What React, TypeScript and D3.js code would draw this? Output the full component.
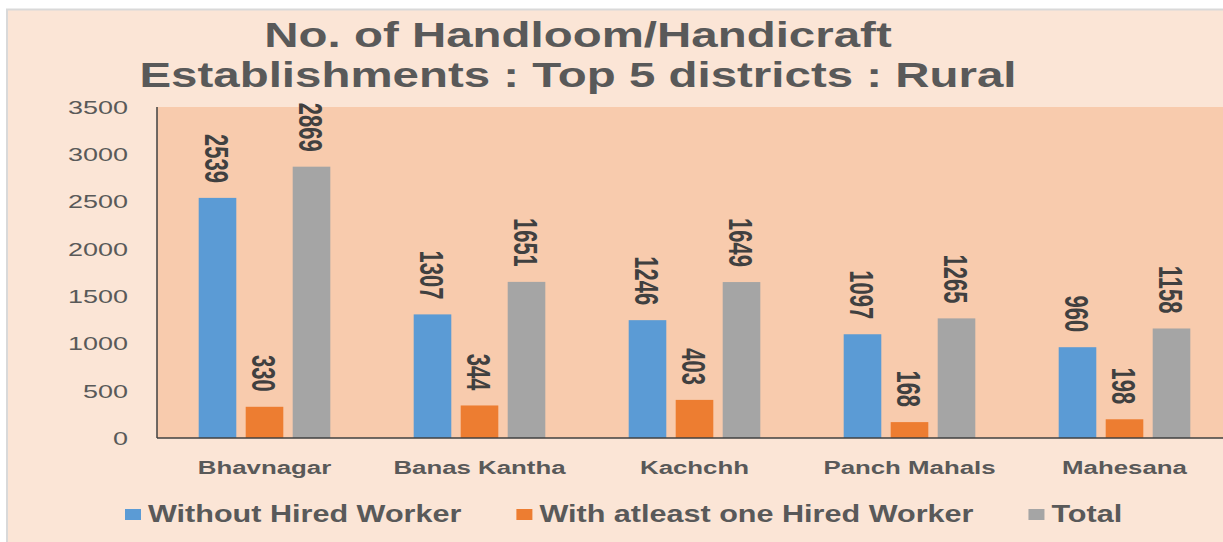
import React, { useEffect, useRef } from "react";
import * as d3 from "d3";

const districts = ["Bhavnagar", "Banas Kantha", "Kachchh", "Panch Mahals", "Mahesana"];
const seriesNames = ["Without Hired Worker", "With atleast one Hired Worker", "Total"];
const withoutHired = [2539, 1307, 1246, 1097, 960];
const withHired = [330, 344, 403, 168, 198];
const totals = [2869, 1651, 1649, 1265, 1158];
const yTicks = [0, 500, 1000, 1500, 2000, 2500, 3000, 3500];
const titleLines = ["No. of Handloom/Handicraft", "Establishments : Top 5 districts : Rural"];

const seriesColors = ["#5B9BD5", "#ED7D31", "#A5A5A5"];
const W = 1223;
const H = 542;
const FONT = "'Liberation Sans', Arial, sans-serif";
const TEXT = "#595959";

export default function App() {
  const ref = useRef<SVGSVGElement | null>(null);

  useEffect(() => {
    const svg = d3.select(ref.current);
    svg.selectAll("*").remove();

    const plot = { left: 157, top: 107, bottom: 438, bandW: 215 };
    const values = [withoutHired, withHired, totals];

    // chart area
    svg.append("rect").attr("width", W).attr("height", H).attr("fill", "#ffffff");
    svg
      .append("rect")
      .attr("x", 7)
      .attr("y", 9.5)
      .attr("width", W + 20)
      .attr("height", H + 20)
      .attr("fill", "#FBE5D6")
      .attr("stroke", "#D9D9D9")
      .attr("stroke-width", 2);

    const x0 = d3
      .scaleBand<string>()
      .domain(districts)
      .range([plot.left, plot.left + plot.bandW * districts.length])
      .paddingInner(0)
      .paddingOuter(0);
    const x1 = d3
      .scaleBand<string>()
      .domain(seriesNames)
      .range([0, x0.bandwidth()])
      .paddingInner(0.2)
      .paddingOuter(0.887);
    const y = d3.scaleLinear().domain([0, 3500]).range([plot.bottom, plot.top]);

    // plot area
    svg
      .append("rect")
      .attr("x", plot.left)
      .attr("y", plot.top)
      .attr("width", W - plot.left + 20)
      .attr("height", plot.bottom - plot.top)
      .attr("fill", "#F8CBAD");

    // title
    titleLines.forEach((line, i) => {
      svg
        .append("text")
        .attr("transform", `translate(578,${47 + i * 40}) scale(1.356,1)`)
        .attr("text-anchor", "middle")
        .attr("font-family", FONT)
        .attr("font-weight", "bold")
        .attr("font-size", 35)
        .attr("fill", TEXT)
        .text(line);
    });

    // y tick labels
    yTicks.forEach((t) => {
      svg
        .append("text")
        .attr("transform", `translate(128,${y(t)}) scale(1.42,1)`)
        .attr("text-anchor", "end")
        .attr("dy", "0.36em")
        .attr("font-family", FONT)
        .attr("font-size", 19)
        .attr("fill", TEXT)
        .text(String(t));
    });

    // bars
    const groups = svg
      .selectAll("g.district")
      .data(districts)
      .enter()
      .append("g")
      .attr("class", "district")
      .attr("transform", (d) => `translate(${x0(d)},0)`);

    seriesNames.forEach((s, si) => {
      groups
        .append("rect")
        .attr("x", x1(s)!)
        .attr("y", (_d, i) => y(values[si][i]))
        .attr("width", x1.bandwidth())
        .attr("height", (_d, i) => plot.bottom - y(values[si][i]))
        .attr("fill", seriesColors[si]);

      const fs = 22;
      groups
        .append("text")
        .attr(
          "transform",
          (_d, i) =>
            `translate(${x1(s)! + x1.bandwidth() / 2},${y(values[si][i]) - 15}) rotate(90) scale(1,1.55)`
        )
        .attr("text-anchor", "end")
        .attr("y", fs * 0.358)
        .attr("font-family", FONT)
        .attr("font-weight", "bold")
        .attr("font-size", fs)
        .attr("fill", "#404040")
        .text((_d, i) => String(values[si][i]));
    });

    // axes lines
    svg
      .append("line")
      .attr("x1", plot.left)
      .attr("x2", plot.left)
      .attr("y1", plot.top)
      .attr("y2", plot.bottom)
      .attr("stroke", "#404040")
      .attr("stroke-width", 1.5);
    svg
      .append("line")
      .attr("x1", plot.left)
      .attr("x2", W)
      .attr("y1", plot.bottom)
      .attr("y2", plot.bottom)
      .attr("stroke", "#404040")
      .attr("stroke-width", 1.5);

    // category labels
    districts.forEach((d) => {
      svg
        .append("text")
        .attr("transform", `translate(${x0(d)! + x0.bandwidth() / 2},474) scale(1.36,1)`)
        .attr("text-anchor", "middle")
        .attr("font-family", FONT)
        .attr("font-weight", "bold")
        .attr("font-size", 19)
        .attr("fill", TEXT)
        .text(d);
    });

    // legend
    const legendScale = 1.33;
    let lx = 125;
    seriesNames.forEach((s, si) => {
      svg
        .append("rect")
        .attr("x", lx)
        .attr("y", 509)
        .attr("width", 16)
        .attr("height", 11)
        .attr("fill", seriesColors[si]);
      const tx = lx + 23;
      const t = svg
        .append("text")
        .attr("transform", `translate(${tx},522) scale(${legendScale},1)`)
        .attr("font-family", FONT)
        .attr("font-weight", "bold")
        .attr("font-size", 23)
        .attr("fill", TEXT)
        .text(s);
      const len = (t.node() as SVGTextElement).getComputedTextLength() * legendScale;
      lx = tx + len + 55;
    });
  }, []);

  return (
    <svg
      ref={ref}
      width={W}
      height={H}
      style={{ position: "absolute", left: 0, top: 0, display: "block" }}
    />
  );
}
